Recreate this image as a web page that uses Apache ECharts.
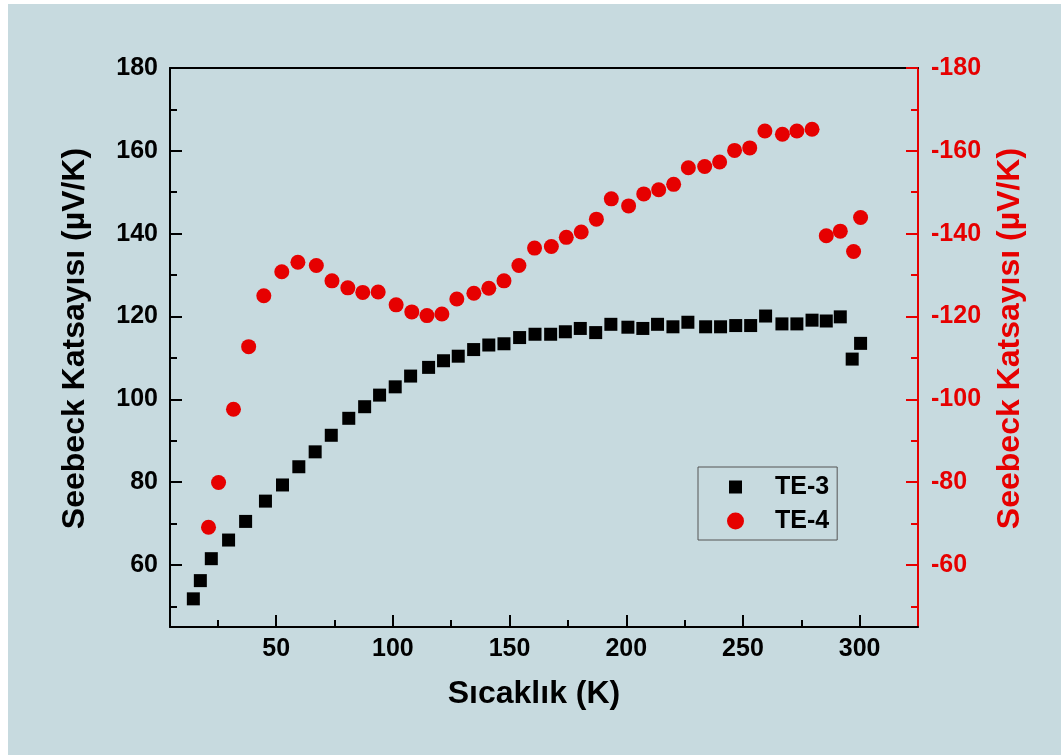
<!DOCTYPE html>
<html>
<head>
<meta charset="utf-8">
<script src="https://cdn.jsdelivr.net/npm/echarts@6/dist/echarts.min.js"></script>
<style>
  html, body { margin: 0; padding: 0; background: #ffffff; }
  #chart { position: absolute; left: 8px; top: 4px; width: 1053px; height: 751px; }
</style>
</head>
<body>
<div id="chart"></div>
<script>
// TE-3 (left axis)
var te3Temp = [14.5, 17.5, 22.2, 29.6, 36.9, 45.4, 52.7, 59.7, 66.7, 73.6, 81.1, 87.9, 94.3, 101.0,
  107.6, 115.3, 121.7, 128.0, 134.6, 141.1, 147.6, 154.3, 160.9, 167.6, 173.9, 180.3, 186.9,
  193.4, 200.7, 207.1, 213.4, 220.0, 226.4, 234.0, 240.4, 246.9, 253.3, 259.7, 266.7, 273.1,
  279.6, 285.7, 291.7, 296.8, 300.4];
var te3Seebeck = [51.8, 56.2, 61.5, 66.0, 70.5, 75.4, 79.3, 83.7, 87.3, 91.3, 95.4, 98.2, 101.0, 103.0,
  105.6, 107.7, 109.3, 110.4, 112.0, 113.1, 113.4, 114.9, 115.7, 115.7, 116.3, 117.1, 116.1,
  118.1, 117.4, 117.1, 118.1, 117.5, 118.6, 117.5, 117.5, 117.8, 117.8, 120.1, 118.2, 118.2,
  119.1, 118.9, 119.9, 109.7, 113.5];

// TE-4 (right axis)
var te4Temp = [21.0, 25.3, 31.7, 38.2, 44.7, 52.4, 59.3, 67.2, 73.9, 80.7, 87.1, 93.7, 101.4, 108.1,
  114.6, 121.0, 127.4, 134.7, 141.1, 147.6, 154.0, 160.7, 167.9, 174.3, 180.7, 187.2, 193.6,
  201.0, 207.5, 213.9, 220.3, 226.6, 233.6, 240.0, 246.4, 252.9, 259.4, 266.9, 273.1, 279.6,
  285.7, 291.7, 297.4, 300.4];
var te4Seebeck = [-69.1, -79.9, -97.6, -112.7, -125.0, -130.8, -133.1, -132.3, -128.6, -126.9, -125.8,
  -125.9, -122.8, -121.1, -120.2, -120.6, -124.2, -125.6, -126.8, -128.6, -132.3, -136.5, -136.9,
  -139.1, -140.4, -143.5, -148.4, -146.7, -149.6, -150.6, -151.9, -155.9, -156.2, -157.3, -160.1,
  -160.7, -164.8, -164.0, -164.8, -165.2, -139.5, -140.6, -135.7, -143.9];

var xMajor = [50, 100, 150, 200, 250, 300];
var xMinor = [25, 75, 125, 175, 225, 275];
var leftMajor = [60, 80, 100, 120, 140, 160, 180];
var leftMinor = [50, 70, 90, 110, 130, 150, 170];
var rightMajor = [-60, -80, -100, -120, -140, -160, -180];
var rightMinor = [-50, -70, -90, -110, -130, -150, -170];

function pairs(xs, ys) {
  return xs.map(function (x, i) { return [x, ys[i]]; });
}

var FONT = 'Liberation Sans, Arial, sans-serif';
var RED = '#e60000';
var yTitle = 'Seebeck Katsayısı (µV/K)';
// square icon drawn smaller than the circle inside the same legend box
var smallSquare = 'path://M0,0M17,17M2,2L15,2L15,15L2,15Z';

var chart = echarts.init(document.getElementById('chart'));
var option = {
  backgroundColor: '#c7dadf',
  animation: false,
  grid: { left: 162, top: 64, right: 143, bottom: 128 },
  legend: {
    orient: 'vertical',
    left: 690, top: 463,
    padding: [7, 8, 6, 29],
    borderColor: '#555555', borderWidth: 1,
    itemWidth: 17, itemHeight: 17, itemGap: 8,
    textStyle: { fontFamily: FONT, fontWeight: 'bold', fontSize: 25, color: '#000', lineHeight: 26, padding: [0, 0, 0, 26] },
    data: [
      { name: 'TE-3', icon: smallSquare },
      { name: 'TE-4', icon: 'circle' }
    ]
  },
  xAxis: [
    {
      type: 'value', min: 4.5, max: 325, position: 'bottom',
      name: 'Sıcaklık (K)', nameLocation: 'middle', nameGap: 51,
      nameTextStyle: { fontFamily: FONT, fontWeight: 'bold', fontSize: 32, color: '#000', padding: [0, 20, 0, 0] },
      axisLine: { lineStyle: { color: '#000', width: 2 } },
      axisTick: { inside: true, length: 12, lineStyle: { width: 2, color: '#000' }, customValues: xMajor },
      axisLabel: { customValues: xMajor, margin: 10, fontFamily: FONT, fontWeight: 'bold', fontSize: 25, color: '#000' },
      splitLine: { show: false }
    },
    {
      type: 'value', min: 4.5, max: 325, position: 'bottom',
      axisLine: { show: false },
      axisTick: { inside: true, length: 7, lineStyle: { width: 2, color: '#000' }, customValues: xMinor },
      axisLabel: { show: false },
      splitLine: { show: false }
    },
    {
      type: 'value', min: 4.5, max: 325, position: 'top',
      axisLine: { lineStyle: { color: '#000', width: 2 } },
      axisTick: { show: false }, axisLabel: { show: false }, splitLine: { show: false }
    }
  ],
  yAxis: [
    {
      type: 'value', min: 45, max: 180, position: 'left',
      name: yTitle, nameLocation: 'middle', nameRotate: 90, nameGap: 79,
      nameTextStyle: { fontFamily: FONT, fontWeight: 'bold', fontSize: 32, color: '#000', padding: [0, 0, 0, 18] },
      axisLine: { lineStyle: { color: '#000', width: 2 } },
      axisTick: { inside: true, length: 12, lineStyle: { width: 2, color: '#000' }, customValues: leftMajor },
      axisLabel: { customValues: leftMajor, margin: 12, fontFamily: FONT, fontWeight: 'bold', fontSize: 25, color: '#000' },
      splitLine: { show: false }
    },
    {
      type: 'value', min: 45, max: 180, position: 'left',
      axisLine: { show: false },
      axisTick: { inside: true, length: 7, lineStyle: { width: 2, color: '#000' }, customValues: leftMinor },
      axisLabel: { show: false }, splitLine: { show: false }
    },
    {
      type: 'value', min: -180, max: -45, inverse: true, position: 'right',
      name: yTitle, nameLocation: 'middle', nameRotate: 90, nameGap: 76,
      nameTextStyle: { fontFamily: FONT, fontWeight: 'bold', fontSize: 32, color: RED, padding: [0, 0, 0, 18] },
      axisLine: { lineStyle: { color: RED, width: 2 } },
      axisTick: { inside: true, length: 12, lineStyle: { width: 2, color: RED }, customValues: rightMajor },
      axisLabel: { customValues: rightMajor, margin: 13, fontFamily: FONT, fontWeight: 'bold', fontSize: 25, color: RED },
      splitLine: { show: false }
    },
    {
      type: 'value', min: -180, max: -45, inverse: true, position: 'right',
      axisLine: { show: false },
      axisTick: { inside: true, length: 7, lineStyle: { width: 2, color: RED }, customValues: rightMinor },
      axisLabel: { show: false }, splitLine: { show: false }
    }
  ],
  series: [
    {
      name: 'TE-3', type: 'scatter', xAxisIndex: 0, yAxisIndex: 0,
      symbol: 'rect', symbolSize: 13,
      itemStyle: { color: '#000000', opacity: 1 },
      data: pairs(te3Temp, te3Seebeck)
    },
    {
      name: 'TE-4', type: 'scatter', xAxisIndex: 0, yAxisIndex: 2,
      symbol: 'circle', symbolSize: 15,
      itemStyle: { color: RED, opacity: 1 },
      data: pairs(te4Temp, te4Seebeck)
    }
  ]
};
chart.setOption(option);
</script>
</body>
</html>
